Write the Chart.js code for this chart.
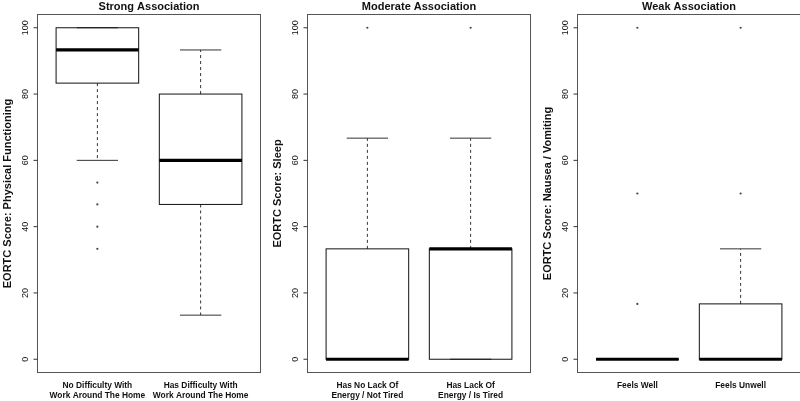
<!DOCTYPE html>
<html>
<head>
<meta charset="utf-8">
<script src="https://cdn.jsdelivr.net/npm/chart.js@4/dist/chart.umd.min.js"></script>
<style>
  html, body { margin: 0; padding: 0; background: #fff; overflow: hidden; width: 800px; height: 401px; }
  .panel { position: absolute; top: 0; }
</style>
</head>
<body>
<canvas id="c0" class="panel" style="left:0px"></canvas>
<canvas id="c1" class="panel" style="left:270px"></canvas>
<canvas id="c2" class="panel" style="left:540px"></canvas>
<script>
// ---- Data ----
const panelTitles = ['Strong Association', 'Moderate Association', 'Weak Association'];
const yTitles = ['EORTC Score: Physical Functioning', 'EORTC Score: Sleep', 'EORTC Score: Nausea / Vomiting'];
const categories = [
  [['No Difficulty With', 'Work Around The Home'], ['Has Difficulty With', 'Work Around The Home']],
  [['Has No Lack Of', 'Energy / Not Tired'], ['Has Lack Of', 'Energy / Is Tired']],
  [['Feels Well'], ['Feels Unwell']]
];
const whiskerLow  = [[60, 13.3], [0, 0], [0, 0]];
const q1          = [[83.3, 46.7], [0, 0], [0, 0]];
const median      = [[93.3, 60], [0, 33.3], [0, 0]];
const q3          = [[100, 80], [33.3, 33.3], [0, 16.7]];
const whiskerHigh = [[100, 93.3], [66.7, 66.7], [0, 33.3]];
const outliers    = [
  [[53.3, 46.7, 40, 33.3], []],
  [[100], [100]],
  [[100, 50, 16.7], [100, 50]]
];
const yTicks = [0, 20, 40, 60, 80, 100];

// ---- Drawing ----
const FONT = '"Liberation Sans", Arial, Helvetica, sans-serif';

function boxPlugin(p) {
  return {
    id: 'box' + p,
    beforeDatasetsDraw(chart) {
      const ctx = chart.ctx, xs = chart.scales.x, ys = chart.scales.y, a = chart.chartArea;
      ctx.save();
      for (let i = 0; i < 2; i++) {
        const cx = xs.getPixelForValue(i + 1);
        const bl = xs.getPixelForValue(i + 1 - 0.4), br = xs.getPixelForValue(i + 1 + 0.4);
        const cl = xs.getPixelForValue(i + 1 - 0.2), cr = xs.getPixelForValue(i + 1 + 0.2);
        const yQ1 = ys.getPixelForValue(q1[p][i]), yQ3 = ys.getPixelForValue(q3[p][i]);
        const yMed = ys.getPixelForValue(median[p][i]);
        const yLo = ys.getPixelForValue(whiskerLow[p][i]), yHi = ys.getPixelForValue(whiskerHigh[p][i]);
        // whiskers (dashed)
        ctx.strokeStyle = '#333'; ctx.lineWidth = 1; ctx.setLineDash([3, 3]);
        ctx.beginPath();
        ctx.moveTo(cx, yQ3); ctx.lineTo(cx, yHi);
        ctx.moveTo(cx, yQ1); ctx.lineTo(cx, yLo);
        ctx.stroke();
        ctx.setLineDash([]);
        // caps
        ctx.beginPath();
        ctx.moveTo(cl, yHi); ctx.lineTo(cr, yHi);
        ctx.moveTo(cl, yLo); ctx.lineTo(cr, yLo);
        ctx.stroke();
        // box
        ctx.strokeStyle = '#111';
        ctx.strokeRect(bl, yQ3, br - bl, yQ1 - yQ3);
        // median
        ctx.lineWidth = 3.2; ctx.strokeStyle = '#000';
        ctx.beginPath(); ctx.moveTo(bl, yMed); ctx.lineTo(br, yMed); ctx.stroke();
      }
      ctx.restore();
    },
    afterDraw(chart) {
      const ctx = chart.ctx, xs = chart.scales.x, ys = chart.scales.y, a = chart.chartArea;
      ctx.save();
      // frame
      ctx.strokeStyle = '#555'; ctx.lineWidth = 1;
      ctx.strokeRect(a.left, a.top, a.right - a.left, a.bottom - a.top);
      // y axis ticks
      ctx.strokeStyle = '#333';
      ctx.beginPath();
      for (const t of yTicks) {
        const y = ys.getPixelForValue(t);
        ctx.moveTo(a.left - 4, y); ctx.lineTo(a.left, y);
      }
      ctx.stroke();
      ctx.fillStyle = '#111';
      ctx.font = '9px ' + FONT;
      ctx.textAlign = 'center'; ctx.textBaseline = 'middle';
      for (const t of yTicks) {
        const y = ys.getPixelForValue(t);
        ctx.save(); ctx.translate(a.left - 12, y); ctx.rotate(-Math.PI / 2);
        ctx.fillText(String(t), 0, 0); ctx.restore();
      }
      // y title
      ctx.font = 'bold 11px ' + FONT;
      ctx.save(); ctx.translate(a.left - 30, (a.top + a.bottom) / 2); ctx.rotate(-Math.PI / 2);
      ctx.fillText(yTitles[p], 0, 0); ctx.restore();
      // title
      ctx.textBaseline = 'alphabetic';
      ctx.fillText(panelTitles[p], (a.left + a.right) / 2, 9.5);
      // category labels
      ctx.font = 'bold 8.4px ' + FONT;
      ctx.textBaseline = 'middle';
      for (let i = 0; i < 2; i++) {
        const cx = xs.getPixelForValue(i + 1);
        categories[p][i].forEach((line, k) => ctx.fillText(line, cx, 386 + k * 10));
      }
      ctx.restore();
    }
  };
}

for (let p = 0; p < 3; p++) {
  const cv = document.getElementById('c' + p);
  cv.width = 262; cv.height = 401;
  const pts = [];
  outliers[p].forEach((arr, i) => arr.forEach(v => pts.push({ x: i + 1, y: v })));
  new Chart(cv, {
    type: 'scatter',
    data: { datasets: [{ data: pts, pointRadius: 1.1, pointBackgroundColor: '#444', pointBorderWidth: 0, pointHoverRadius: 1.1 }] },
    options: {
      responsive: false, animation: false,
      layout: { padding: { left: 37.5, right: 1.5, top: 14.5, bottom: 28.5 } },
      scales: {
        x: { type: 'linear', min: 0.42, max: 2.58, display: false },
        y: { type: 'linear', min: -4, max: 104, display: false }
      },
      plugins: { legend: { display: false }, tooltip: { enabled: false } }
    },
    plugins: [boxPlugin(p)]
  });
}
</script>
</body>
</html>
